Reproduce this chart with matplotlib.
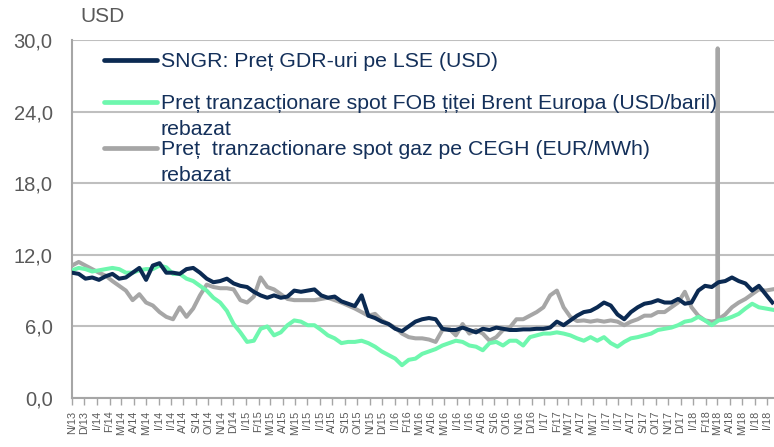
import matplotlib.pyplot as plt
from matplotlib.lines import Line2D
import pandas as pd

plt.rcParams['font.family'] = ['Liberation Sans', 'DejaVu Sans']

# semi-monthly readings, Nov 2013 - Jul 2018 (rebased to the SNGR GDR price)
start = "2013-11-01"
n_obs = 105
sngr = [10.5, 10.4, 10.0, 10.1, 9.9, 10.2, 10.4, 10.0, 10.1, 10.5,
        10.9, 9.9, 11.1, 11.3, 10.5, 10.5, 10.4, 10.8, 10.9, 10.5,
        10.0, 9.7, 9.8, 10.0, 9.6, 9.4, 9.3, 8.9, 8.6, 8.4,
        8.6, 8.4, 8.5, 9.0, 8.9, 9.0, 9.1, 8.6, 8.4, 8.5,
        8.1, 7.9, 7.7, 8.6, 6.9, 6.7, 6.4, 6.2, 5.8, 5.6,
        6.0, 6.4, 6.6, 6.7, 6.6, 5.8, 5.7, 5.7, 5.9, 5.7,
        5.5, 5.8, 5.7, 5.9, 5.8, 5.7, 5.7, 5.75, 5.75, 5.8,
        5.8, 5.9, 6.4, 6.1, 6.5, 6.9, 7.2, 7.3, 7.6, 8.0,
        7.75, 7.0, 6.6, 7.2, 7.6, 7.9, 8.0, 8.2, 8.0, 8.0,
        8.3, 7.9, 8.0, 9.0, 9.4, 9.3, 9.7, 9.8, 10.1, 9.8,
        9.6, 9.0, 9.4, 8.7, 8.0]
brent = [10.7, 10.9, 10.8, 10.6, 10.7, 10.8, 10.9, 10.8, 10.5, 10.5,
         10.7, 10.8, 10.8, 11.1, 10.95, 10.4, 10.4, 10.0, 9.8, 9.4,
         9.0, 8.4, 8.0, 7.3, 6.2, 5.5, 4.7, 4.8, 5.8, 6.0,
         5.25, 5.5, 6.1, 6.5, 6.4, 6.1, 6.1, 5.7, 5.25, 5.0,
         4.6, 4.7, 4.7, 4.8, 4.6, 4.3, 3.9, 3.6, 3.3, 2.75,
         3.2, 3.3, 3.7, 3.9, 4.1, 4.4, 4.6, 4.8, 4.7, 4.4,
         4.3, 4.0, 4.6, 4.7, 4.4, 4.8, 4.8, 4.4, 5.1, 5.25,
         5.4, 5.4, 5.5, 5.4, 5.25, 5.0, 4.8, 5.1, 4.8, 5.1,
         4.6, 4.3, 4.7, 5.0, 5.1, 5.25, 5.4, 5.7, 5.8, 5.9,
         6.1, 6.4, 6.5, 6.8, 6.5, 6.1, 6.5, 6.6, 6.8, 7.05,
         7.5, 7.9, 7.6, 7.5, 7.4]
gas = [11.1, 11.4, 11.1, 10.8, 10.5, 10.25, 9.8, 9.4, 9.0, 8.2,
       8.7, 8.0, 7.75, 7.2, 6.8, 6.6, 7.6, 6.8, 7.5, 8.6,
       9.5, 9.3, 9.2, 9.2, 9.1, 8.2, 8.0, 8.5, 10.1, 9.3,
       9.1, 8.7, 8.3, 8.2, 8.2, 8.2, 8.2, 8.3, 8.4, 8.2,
       8.0, 7.75, 7.5, 7.2, 6.9, 7.05, 6.5, 6.2, 5.9, 5.4,
       5.1, 5.0, 5.0, 4.9, 4.7, 5.7, 5.8, 5.25, 6.2, 5.4,
       5.7, 5.4, 4.8, 5.1, 5.7, 5.9, 6.6, 6.6, 6.9, 7.2,
       7.6, 8.6, 9.0, 7.6, 6.8, 6.45, 6.5, 6.4, 6.5, 6.4,
       6.5, 6.4, 6.1, 6.4, 6.6, 6.9, 6.9, 7.2, 7.2, 7.6,
       8.0, 8.9, 7.6, 6.9, 6.5, 6.4, 6.6, 7.0, 7.6, 8.0,
       8.3, 8.7, 9.1, 9.0, 9.1]
# CEGH price spike, early March 2018
gas_spike_dates = ["2018-03-01", "2018-03-02", "2018-03-03"]
gas_spike = [6.5, 29.3, 6.8]

labels = ["SNGR: Preț GDR-uri pe LSE (USD)",
          "Preț tranzacționare spot FOB țiței Brent Europa (USD/baril)\nrebazat",
          "Preț  tranzactionare spot gaz pe CEGH (EUR/MWh)\nrebazat"]
colors = ["#0B2A52", "#6EF7AE", "#A6A6A6"]
month_letters = ["I", "F", "M", "A", "M", "I", "I", "A", "S", "O", "N", "D"]

dates = pd.date_range(start, periods=n_obs, freq="396h")
s_sngr = pd.Series(sngr, index=dates)
s_brent = pd.Series(brent, index=dates)
s_gas = pd.concat([pd.Series(gas, index=dates),
                   pd.Series(gas_spike, index=pd.to_datetime(gas_spike_dates))]).sort_index()

fig = plt.figure(figsize=(7.74, 4.47), dpi=100)
ax = fig.add_axes([72/774, 1-398/447, 1-72/774, 358/447])

ax.plot(s_gas.index, s_gas.values, color=colors[2], lw=2.9, solid_joinstyle='round', zorder=2)
ax.plot(s_brent.index, s_brent.values, color=colors[1], lw=2.9, solid_joinstyle='round', zorder=3)
ax.plot(s_sngr.index, s_sngr.values, color=colors[0], lw=2.9, solid_joinstyle='round', zorder=4)

ax.set_ylim(0, 30)
ax.set_yticks(range(0, 31, 6))
ax.set_yticklabels([f"{v},0" for v in range(0, 31, 6)], fontsize=14.5, color="#595959")
ax.yaxis.grid(True, color="#BFBFBF", lw=1.5)
ax.set_axisbelow(True)
ax.tick_params(axis='y', length=0, pad=14)

ticks = pd.date_range(start, "2018-07-01", freq="MS")
ax.set_xticks(ticks)
ax.set_xticklabels([f"{month_letters[d.month-1]}/{d.strftime('%y')}" for d in ticks],
                   rotation=90, fontsize=7.8, color="#595959")
ax.tick_params(axis='x', length=5, width=1, color="#A6A6A6", pad=4)
ax.set_xlim(pd.Timestamp(start), pd.Timestamp("2018-07-18"))

for side in ["top", "right"]:
    ax.spines[side].set_visible(False)
for side in ["left", "bottom"]:
    ax.spines[side].set_color("#A6A6A6")
    ax.spines[side].set_linewidth(1.5)

fig.text(80/774, 1-17/447, "USD", fontsize=15, color="#595959", va="center")

# legend, handle level with the first text line
legend_rows = [60, 102, 148]
for lab, col, yp in zip(labels, colors, legend_rows):
    fy = 1 - yp/447
    fig.add_artist(Line2D([104/774, 157/774], [fy, fy], color=col, lw=3.4,
                          solid_capstyle='round', transform=fig.transFigure))
    fig.text(161/774, fy + 8/447, lab, fontsize=15.3, color="#14305A", va="top",
             linespacing=1.45, transform=fig.transFigure)

fig.savefig("out.png", dpi=100)
